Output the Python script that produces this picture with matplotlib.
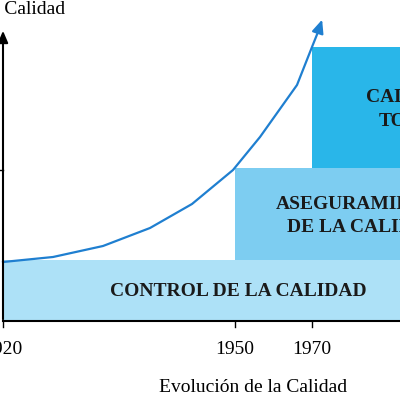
import matplotlib.pyplot as plt
from matplotlib.patches import Rectangle

# positions on a pixel-like grid (0..400, y downward)
years = ["1920", "1950", "1970"]
year_pos = [3, 235, 312]

# stages: (label, left, top, bottom, colour)
stage_labels = ["CONTROL DE LA CALIDAD", "ASEGURAMIENTO\nDE LA CALIDAD", "CALIDAD\nTOTAL"]
stage_left = [3, 235, 312]
stage_top = [260, 168, 47]
stage_bottom = [320, 260, 168]
stage_colors = ["#ade1f7", "#7dcdf1", "#29b6e9"]
stage_text_x = [238, 364, 412]

curve_x = [3, 53, 103, 150, 192, 233, 260, 297, 312, 318]
curve_y = [262, 257, 246, 228, 204, 170, 137, 85, 47, 32]

plt.rcParams["font.family"] = ["Liberation Serif", "DejaVu Serif"]

fig = plt.figure(figsize=(4, 4), dpi=100)
ax = fig.add_axes([0, 0, 1, 1])
ax.set_xlim(0, 400)
ax.set_ylim(400, 0)
ax.axis("off")

for lab, l, t, b, c, tx in zip(stage_labels, stage_left, stage_top, stage_bottom,
                                stage_colors, stage_text_x):
    ax.add_patch(Rectangle((l, t), 400 - l, b - t, color=c, lw=0, zorder=1))
    ax.text(tx, (t + b) / 2 + 2, lab, ha="center", va="center", fontsize=14,
            fontweight="bold", color="#1a1a1a", linespacing=1.5, zorder=3)

# curve with arrow
ax.plot(curve_x, curve_y, color="#1f7fd0", lw=1.6, zorder=2)
ax.annotate("", xy=(323, 17), xytext=(curve_x[-1], curve_y[-1]),
            arrowprops=dict(arrowstyle="-|>,head_length=0.8,head_width=0.35",
                            color="#1f7fd0", lw=1.6), zorder=2)

# axes
ax.plot([3, 400], [321, 321], color="black", lw=1.5, zorder=4)
ax.annotate("", xy=(3, 28), xytext=(3, 322),
            arrowprops=dict(arrowstyle="-|>,head_length=0.7,head_width=0.3",
                            color="black", lw=1.5), zorder=4)
ax.plot([0, 3], [170, 170], color="black", lw=1)
for yr, p in zip(years, year_pos):
    ax.plot([p, p], [321, 327], color="black", lw=1)
    ax.text(p, 349, yr, ha="center", va="center", fontsize=14)

ax.text(65, 10, "Nivel de la Calidad", ha="right", va="center", fontsize=14)
ax.text(253, 388, "Evolución de la Calidad", ha="center", va="center", fontsize=14)

fig.savefig("out.png", dpi=100)
